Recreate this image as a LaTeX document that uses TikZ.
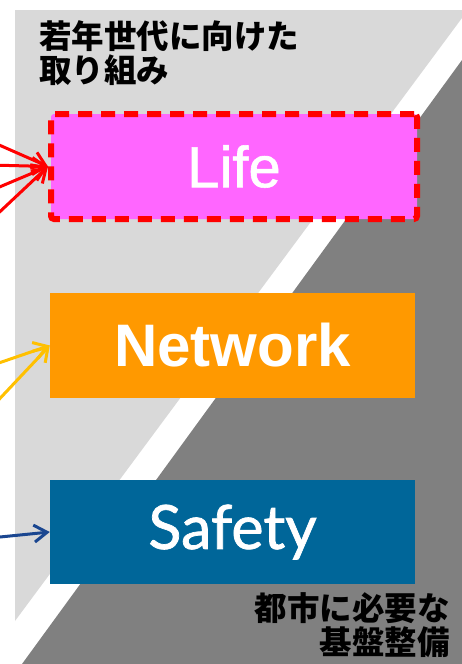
\documentclass[tikz,border=0pt]{standalone}
\usepackage{fontspec}
\usetikzlibrary{arrows.meta}
\newfontfamily\jpfont{Noto Sans CJK JP}
\newfontfamily\boxfont{Liberation Sans}
\newfontfamily\lifefont{Liberation Sans}[FakeBold=1]
\newfontfamily\safefont{Lato}[FakeBold=1.2]
\definecolor{lightbg}{HTML}{D9D9D9}
\definecolor{darkbg}{HTML}{808080}
\definecolor{lifefill}{HTML}{FF66FF}
\definecolor{netfill}{HTML}{FF9900}
\definecolor{safefill}{HTML}{006699}
\definecolor{netarrow}{HTML}{FFC000}
\definecolor{safearrow}{HTML}{1A4690}

\begin{document}
\begin{tikzpicture}[x=1pt, y=-1pt, >={Straight Barb[length=13pt, width=17pt]},
	every node/.style={inner sep=0pt},
	jptext/.style={font=\jpfont\bfseries\fontsize{32.5}{34}\selectfont},
	panel/.style={minimum width=365pt, minimum height=105pt, text=white},
	feed/.style={->, line width=3pt}]
	\useasboundingbox (0,0) rectangle (462,664);
	\fill[lightbg] (15,10) -- (462,10) -- (462,18) -- (15,621) -- cycle;
	\fill[darkbg] (462,60) -- (462,664) -- (22,664) -- cycle;
	\node[jptext, anchor=north west, align=left] (youth) at (39,20) {若年世代に向けた\\取り組み};
	\node[jptext, anchor=north east, align=right] (base) at (450,592) {都市に必要な\\基盤整備};
	\node[panel, fill=lifefill, draw=red, line width=6pt, dash pattern=on 14pt off 9pt, rounded corners=3pt,
		minimum width=366pt, font=\lifefont\fontsize{58}{60}\selectfont] (life) at (234,166.5) {Life};
	\node[panel, fill=netfill, font=\boxfont\bfseries\fontsize{60}{62}\selectfont] (network) at (232.5,345.5) {Network};
	\node[panel, fill=safefill, minimum height=104pt, font=\safefont\fontsize{61}{63}\selectfont] (safety) at (232.5,532) {Safety};
	\coordinate (r1) at (-10,141);
	\coordinate (r2) at (-10,165);
	\coordinate (r3) at (-10,191);
	\coordinate (r4) at (-10,221);
	\coordinate (n1) at (-10,366);
	\coordinate (n2) at (-10,409);
	\coordinate (s1) at (-10,538);
	\foreach \p in {r1,r2,r3,r4}
		\draw[feed, red] (\p) -- (life.west);
	\foreach \p in {n1,n2}
		\draw[feed, netarrow] (\p) -- (network.west);
	\draw[feed, safearrow] (s1) -- (safety.west);
\end{tikzpicture}
\end{document}
